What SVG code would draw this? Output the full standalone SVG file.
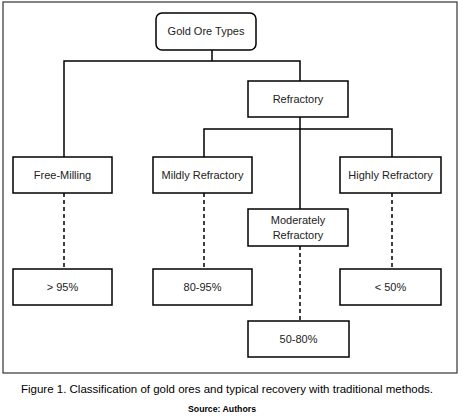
<svg xmlns="http://www.w3.org/2000/svg" width="462" height="417" viewBox="0 0 462 417">
<style>
.box{fill:#fff;stroke:#000;stroke-width:1.5}
.t{font-family:"Liberation Sans",Arial,sans-serif;font-size:11px;fill:#222;text-anchor:middle}
.ln{fill:none;stroke:#000;stroke-width:1.5}
.dash{fill:none;stroke:#000;stroke-width:1.5;stroke-dasharray:4 3}
.cap{font-family:"Liberation Sans",Arial,sans-serif;fill:#000;text-anchor:middle}
</style>
<rect width="462" height="417" fill="#fff"/>
<rect x="3" y="2" width="454" height="371" fill="none" stroke="#333" stroke-width="1.2"/>
<g id="connectors">
<polyline class="ln" points="212,50 212,61"/>
<polyline class="ln" points="64,157 64,61 300,61 300,81"/>
<polyline class="ln" points="300,117 300,209"/>
<polyline class="ln" points="204,157 204,129 392,129 392,157"/>
<line class="dash" x1="64" y1="193" x2="64" y2="269"/>
<line class="dash" x1="204" y1="193" x2="204" y2="269"/>
<line class="dash" x1="392" y1="193" x2="392" y2="269"/>
<line class="dash" x1="300" y1="246" x2="300" y2="321"/>
</g>
<g id="gold-ore-types"><rect class="box" x="156" y="13" width="100" height="37" rx="6"/><text class="t" x="206" y="35">Gold Ore Types</text></g>
<g id="refractory"><rect class="box" x="248" y="81" width="100" height="36"/><text class="t" x="298" y="103">Refractory</text></g>
<g id="free-milling"><rect class="box" x="13" y="157" width="99" height="36"/><text class="t" x="62.5" y="179">Free-Milling</text></g>
<g id="mildly-refractory"><rect class="box" x="153" y="157" width="99" height="36"/><text class="t" x="202.5" y="179">Mildly Refractory</text></g>
<g id="highly-refractory"><rect class="box" x="340" y="157" width="101" height="36"/><text class="t" x="390.5" y="179">Highly Refractory</text></g>
<g id="moderately-refractory"><rect class="box" x="248" y="209" width="100" height="37"/><text class="t" x="298" y="224">Moderately</text><text class="t" x="298" y="239">Refractory</text></g>
<g id="gt95"><rect class="box" x="13" y="269" width="99" height="36"/><text class="t" x="62.5" y="291">&gt; 95%</text></g>
<g id="r80-95"><rect class="box" x="153" y="269" width="99" height="36"/><text class="t" x="202.5" y="291">80-95%</text></g>
<g id="lt50"><rect class="box" x="340" y="269" width="101" height="36"/><text class="t" x="390.5" y="291">&lt; 50%</text></g>
<g id="r50-80"><rect class="box" x="248" y="321" width="101" height="36"/><text class="t" x="298.5" y="343">50-80%</text></g>
<text class="cap" x="227" y="393" font-size="11" textLength="412" lengthAdjust="spacingAndGlyphs">Figure 1. Classification of gold ores and typical recovery with traditional methods.</text>
<text class="cap" x="222" y="412" font-size="9" font-weight="bold" textLength="68" lengthAdjust="spacingAndGlyphs">Source: Authors</text>
</svg>
